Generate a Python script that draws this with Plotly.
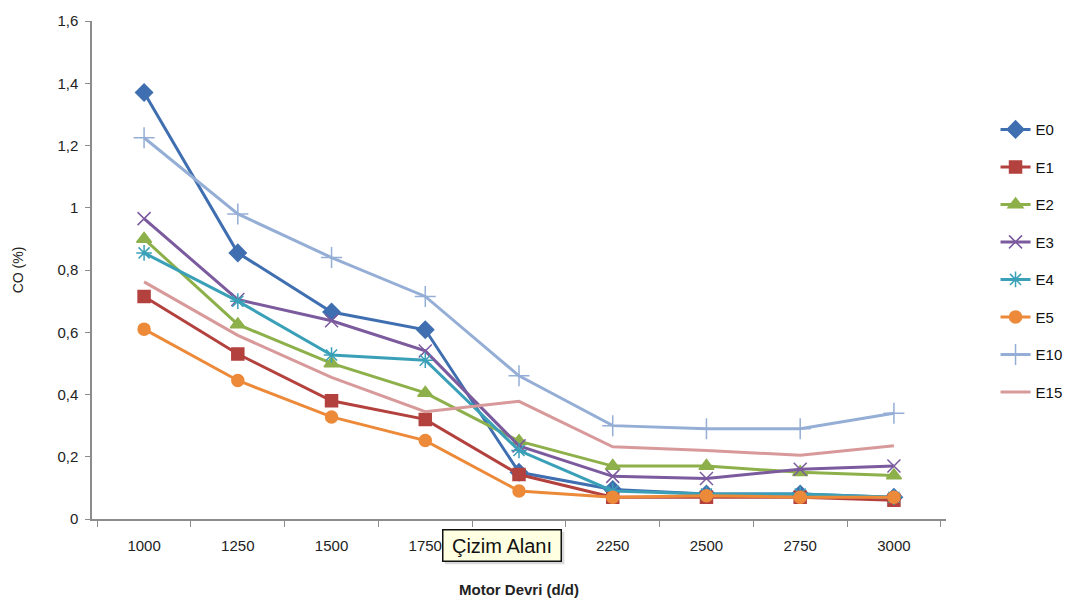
import plotly.graph_objects as go

categories = ["1000", "1250", "1500", "1750", "2000", "2250", "2500", "2750", "3000"]
# tick label for 2000 is hidden behind the "Çizim Alanı" tooltip in the reference
tick_labels = ["1000", "1250", "1500", "1750", "", "2250", "2500", "2750", "3000"]
E0 = [1.37, 0.855, 0.665, 0.608, 0.15, 0.095, 0.08, 0.08, 0.07]
E1 = [0.715, 0.53, 0.38, 0.32, 0.143, 0.07, 0.07, 0.07, 0.06]
E2 = [0.9, 0.625, 0.5, 0.405, 0.25, 0.17, 0.17, 0.15, 0.14]
E3 = [0.965, 0.705, 0.637, 0.54, 0.235, 0.137, 0.13, 0.16, 0.17]
E4 = [0.855, 0.70, 0.527, 0.51, 0.22, 0.09, 0.08, 0.08, 0.07]
E5 = [0.61, 0.445, 0.328, 0.252, 0.09, 0.07, 0.075, 0.07, 0.07]
E10 = [1.225, 0.98, 0.84, 0.715, 0.46, 0.30, 0.29, 0.29, 0.34]
E15 = [0.762, 0.59, 0.455, 0.345, 0.378, 0.232, 0.22, 0.205, 0.235]

series = [
    ("E0", E0, "#3F6FB0", "diamond", 13),
    ("E1", E1, "#B3413E", "square", 12),
    ("E2", E2, "#8DB04A", "triangle-up", 13),
    ("E3", E3, "#7B5A9E", "x-thin-open", 13),
    ("E4", E4, "#3AA0B8", "asterisk-open", 13),
    ("E5", E5, "#EC8A3A", "circle", 12),
    ("E10", E10, "#95AED6", "cross-thin-open", 15),
    ("E15", E15, "#D8999A", None, 0),
]

fig = go.Figure()
for name, vals, color, sym, size in series:
    if sym:
        mode = "lines+markers"
        marker = dict(symbol=sym, size=size, color=color, line=dict(color=color, width=1.5))
    else:
        mode = "lines"
        marker = None
    fig.add_trace(go.Scatter(
        x=categories, y=vals, name=name, mode=mode,
        line=dict(color=color, width=3), marker=marker,
        legendgroup=name,
    ))

fig.update_layout(
    width=1080, height=608,
    margin=dict(l=92, r=131, t=15, b=88),
    paper_bgcolor="white", plot_bgcolor="white",
    separators=",.",
    font=dict(family="Liberation Sans, Arial", size=15, color="#222222"),
    showlegend=True,
    legend=dict(x=1.058, y=0.815, xanchor="left", yanchor="top",
                tracegroupgap=15, font=dict(size=15, color="#111111"),
                bgcolor="rgba(0,0,0,0)"),
    xaxis=dict(type="category", showline=True, linecolor="#8c8c8c", linewidth=1.5,
               ticks="outside", ticklen=6, tickcolor="#8c8c8c", tickson="boundaries",
               tickvals=categories, ticktext=tick_labels, ticklabelstandoff=12,
               showgrid=False, zeroline=False,
               title=dict(text="<b>Motor Devri (d/d)</b>", font=dict(size=15, color="#222222"), standoff=32)),
    yaxis=dict(range=[0, 1.6], dtick=0.2, showline=True, linecolor="#8c8c8c", linewidth=1.5,
               ticks="outside", ticklen=5, tickcolor="#8c8c8c", showgrid=False, zeroline=False,
               ticklabelstandoff=4,
               title=dict(text="CO (%)", font=dict(size=14, color="#222222"), standoff=30)),
)

# soft shadow behind the tooltip
fig.add_shape(type="rect", xref="paper", yref="paper",
              x0=(446 - 92) / 857, x1=(566 - 92) / 857,
              y0=-(533 - 520) / 505, y1=-(566 - 520) / 505,
              fillcolor="rgba(0,0,0,0.15)", line=dict(width=0), layer="above")
fig.add_annotation(
    xref="paper", yref="paper", x=(443 - 92) / 857, y=-(530 - 520) / 505,
    xanchor="left", yanchor="top", text="Çizim Alanı", showarrow=False,
    width=111, height=24, align="center",
    font=dict(size=20, color="#111111"), bgcolor="#FFFFE1", bordercolor="#111111",
    borderwidth=1.5, borderpad=3,
)

fig.write_html("out.html")
